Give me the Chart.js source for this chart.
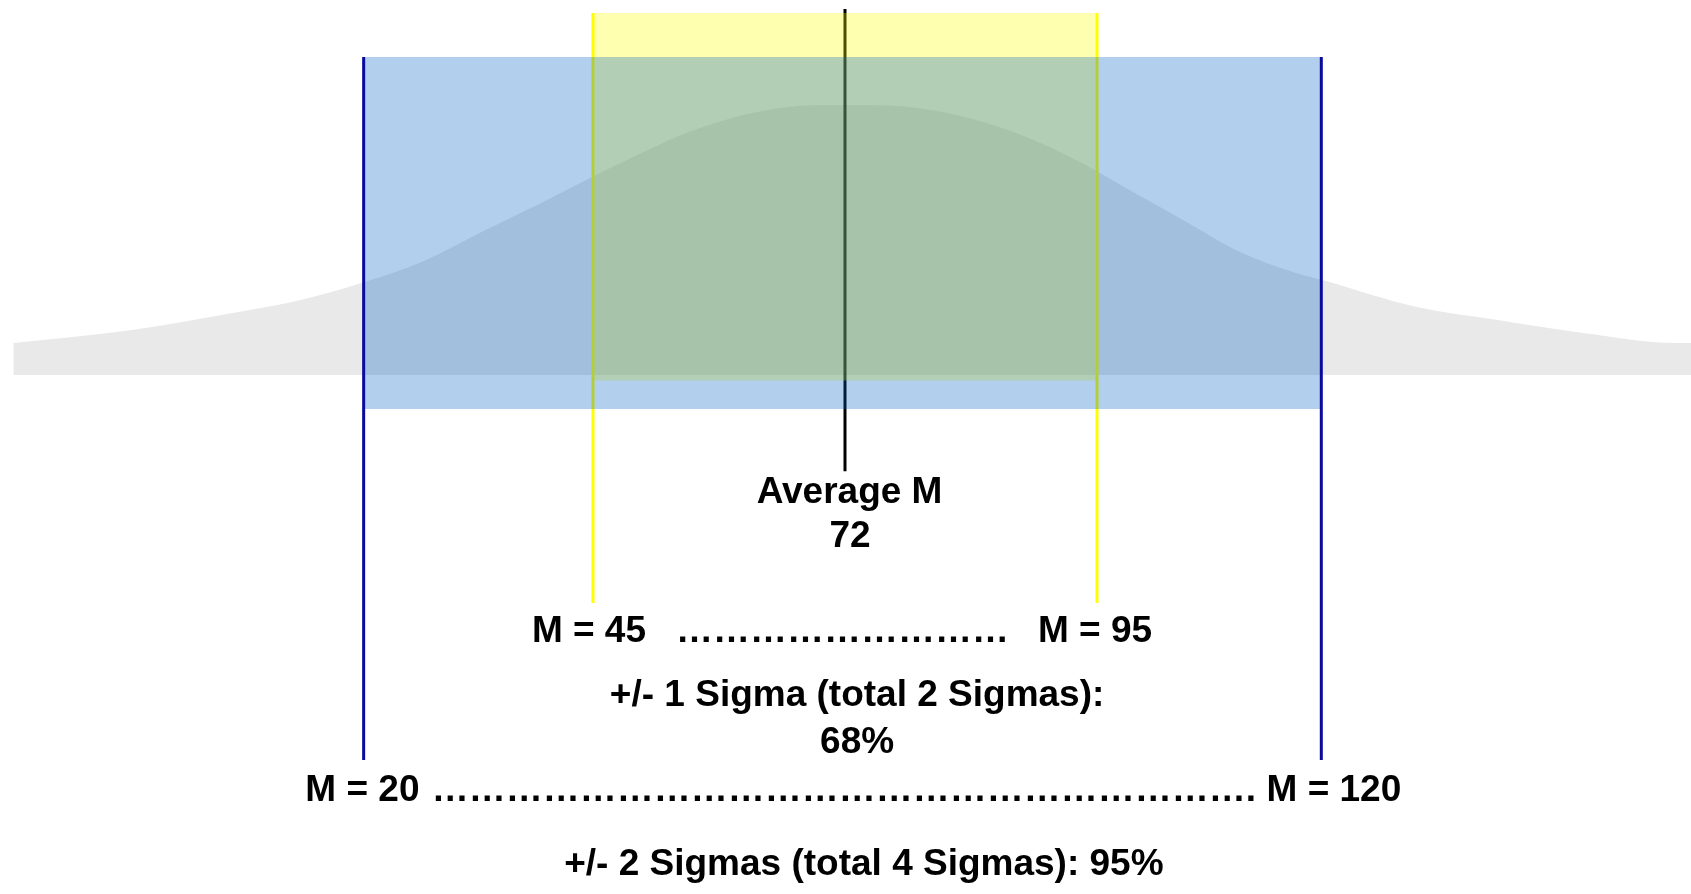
<!DOCTYPE html>
<html>
<head>
<meta charset="utf-8">
<script src="https://cdn.jsdelivr.net/npm/chart.js@4.4.1/dist/chart.umd.min.js"></script>
<style>
  html, body { margin: 0; padding: 0; background: #fff; }
  #wrap { width: 1691px; height: 894px; }
</style>
</head>
<body>
<div id="wrap"><canvas id="sigmaChart"></canvas></div>
<script>
// x in sigma steps from the mean, y in curve height (peak = 1)
const curveX = [-3.30, -2.83, -2.43, -2.16, -1.91, -1.68, -1.43, -1.21, -1.00, -0.79, -0.62, -0.36, -0.10,
                0.07, 0.29, 0.50, 0.71, 0.93, 1.14, 1.35, 1.57, 1.78, 1.90, 2.27, 2.59, 2.93, 3.30, 3.36];
const curveY = [0.119, 0.167, 0.230, 0.278, 0.344, 0.419, 0.535, 0.635, 0.735, 0.830, 0.900, 0.972, 1.0,
                1.0, 0.989, 0.950, 0.885, 0.790, 0.680, 0.570, 0.455, 0.381, 0.350, 0.252, 0.204, 0.156, 0.119, 0.119];

const meanX = 0;
const oneSigmaX = [-1.0, 1.0];
const twoSigmaX = [-1.91, 1.89];

// vertical spans [top, bottom]
const meanLineSpan = [1.356, -0.356];
const oneSigmaBand = [1.341, -0.02];
const oneSigmaLine = [1.341, -0.844];
const twoSigmaBand = [1.178, -0.126];
const twoSigmaLine = [1.178, -1.426];

// texts and where they sit [x, baseline y]
const shortDots = '…'.repeat(9);
const longDots = '…'.repeat(22) + '.';
const labelTexts = ['Average M', '72', 'M = 45', shortDots, 'M = 95',
                    '+/- 1 Sigma (total 2 Sigmas):', '68%',
                    'M = 20', longDots, 'M = 120',
                    '+/- 2 Sigmas (total 4 Sigmas): 95%'];
const labelX = [0.018, 0.02, -1.016, -0.01, 0.992, 0.048, 0.048, -1.915, -0.004, 1.94, 0.075];
const labelY = [-0.474, -0.637, -0.989, -0.989, -0.989, -1.226, -1.40, -1.578, -1.578, -1.578, -1.852];

function pts(xs, ys) { return xs.map((x, i) => ({ x: x, y: ys[i] })); }

const vline = (x, span, color, order) => ({
  data: [{ x: x, y: span[0] }, { x: x, y: span[1] }],
  borderColor: color, borderWidth: 3, pointRadius: 0, fill: false, order: order
});

const band = (xs, span, color, order) => ({
  data: [{ x: xs[0], y: span[0] }, { x: xs[1], y: span[0] }],
  borderColor: 'transparent', borderWidth: 0, pointRadius: 0,
  backgroundColor: color, fill: { value: span[1] }, order: order
});

const labelPlugin = {
  id: 'labels',
  afterDatasetsDraw(chart) {
    const ctx = chart.ctx;
    const xs = chart.scales.x, ys = chart.scales.y;
    ctx.save();
    ctx.fillStyle = '#000';
    ctx.font = 'bold 37px "Liberation Sans", Arial, sans-serif';
    ctx.textAlign = 'center';
    ctx.textBaseline = 'alphabetic';
    labelTexts.forEach((t, i) => {
      ctx.fillText(t, xs.getPixelForValue(labelX[i]), ys.getPixelForValue(labelY[i]));
    });
    ctx.restore();
  }
};

new Chart(document.getElementById('sigmaChart'), {
  type: 'line',
  data: {
    datasets: [
      {
        data: pts(curveX, curveY),
        borderColor: 'transparent', borderWidth: 0, pointRadius: 0,
        backgroundColor: '#e9e9e9', fill: 'origin',
        tension: 0.3, cubicInterpolationMode: 'monotone', order: 6
      },
      vline(meanX, meanLineSpan, '#000000', 5),
      band(oneSigmaX, oneSigmaBand, 'rgba(255,255,0,0.31)', 4),
      vline(oneSigmaX[0], oneSigmaLine, '#ffff00', 3),
      vline(oneSigmaX[1], oneSigmaLine, '#ffff00', 3),
      band(twoSigmaX, twoSigmaBand, 'rgba(0,95,195,0.3)', 2),
      vline(twoSigmaX[0], twoSigmaLine, '#0a0a9e', 1),
      vline(twoSigmaX[1], twoSigmaLine, '#0a0a9e', 1)
    ]
  },
  options: {
    responsive: true,
    maintainAspectRatio: false,
    animation: false,
    events: [],
    layout: { padding: 0 },
    plugins: { legend: { display: false }, tooltip: { enabled: false } },
    scales: {
      x: { type: 'linear', min: -3.353, max: 3.357, display: false },
      y: { min: -1.922, max: 1.389, display: false }
    }
  },
  plugins: [labelPlugin]
});
</script>
</body>
</html>
